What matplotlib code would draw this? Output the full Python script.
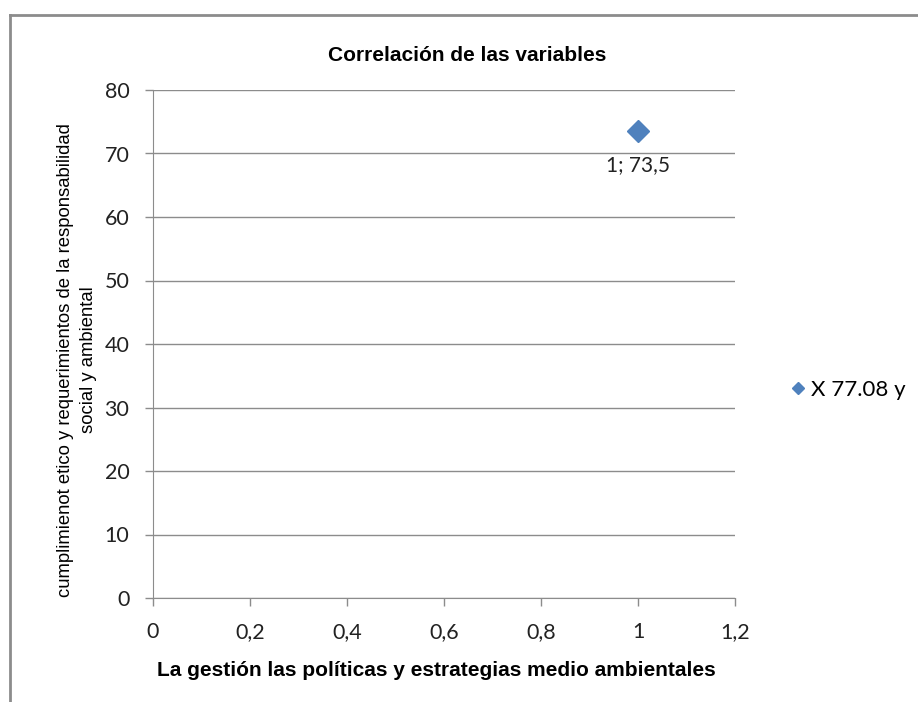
import matplotlib.pyplot as plt
from matplotlib.lines import Line2D

# datos del grafico
x_vals = [1]
y_vals = [73.5]
point_labels = ['1; 73,5']
serie_label = 'X 77.08 y'
x_ticks = [0, 0.2, 0.4, 0.6, 0.8, 1, 1.2]
x_tick_labels = ['0', '0,2', '0,4', '0,6', '0,8', '1', '1,2']
y_ticks = [0, 10, 20, 30, 40, 50, 60, 70, 80]

color = '#4F81BD'
gris = '#8C8C8C'

fig = plt.figure(figsize=(9.18, 7.02), dpi=100)
ax = fig.add_axes([153/918, 1 - 598/702, (735 - 153)/918, (598 - 90)/702])

# marco exterior (solo se ven arriba e izquierda)
fig.add_artist(Line2D([9.5/918, 9.5/918], [0, 1 - 14.5/702], transform=fig.transFigure, color=gris, lw=2))
fig.add_artist(Line2D([9.5/918, 1], [1 - 14.5/702, 1 - 14.5/702], transform=fig.transFigure, color=gris, lw=2))

ax.plot(x_vals, y_vals, linestyle='none', marker='D', markersize=11, color=color, label=serie_label)
for x, y, t in zip(x_vals, y_vals, point_labels):
    ax.annotate(t, (x, y), xytext=(0, -17), textcoords='offset points', ha='center', va='top',
                fontsize=15, family='Lato', color='#222222')

ax.set_xlim(0, 1.2)
ax.set_ylim(0, 80)
ax.set_xticks(x_ticks)
ax.set_xticklabels(x_tick_labels)
ax.set_yticks(y_ticks)
ax.tick_params(labelsize=15.5, colors=gris, labelcolor='#222222', length=6, width=1)
ax.tick_params(axis='x', pad=11)
ax.tick_params(axis='y', pad=11)
for lab in ax.get_xticklabels() + ax.get_yticklabels():
    lab.set_family('Lato')
ax.grid(True, axis='y', color=gris, lw=1)
ax.set_axisbelow(True)
for s in ['top', 'right']:
    ax.spines[s].set_visible(False)
for s in ['left', 'bottom']:
    ax.spines[s].set_color(gris)

ax.set_title('Correlación de las variables', fontsize=15, fontweight='bold', family='Liberation Sans',
             pad=21, x=0.54)
ax.set_xlabel('La gestión las políticas y estrategias medio ambientales', fontsize=15,
              fontweight='bold', family='Liberation Sans')
ax.xaxis.set_label_coords((436 - 153)/582, -0.125)
ax.set_ylabel('cumplimienot etico y requerimientos de la responsabilidad\nsocial y ambiental', fontsize=13.3,
              family='Liberation Sans', linespacing=1.45)
ax.yaxis.set_label_coords(-(153 - 97)/582, (598 - 360)/508)

ax.legend(loc='center left', bbox_to_anchor=(1.055, 0.41), frameon=False,
          prop={'family': 'Lato', 'size': 16}, handletextpad=0.1, markerscale=0.55, handlelength=1)

plt.savefig('out.png', dpi=100)
